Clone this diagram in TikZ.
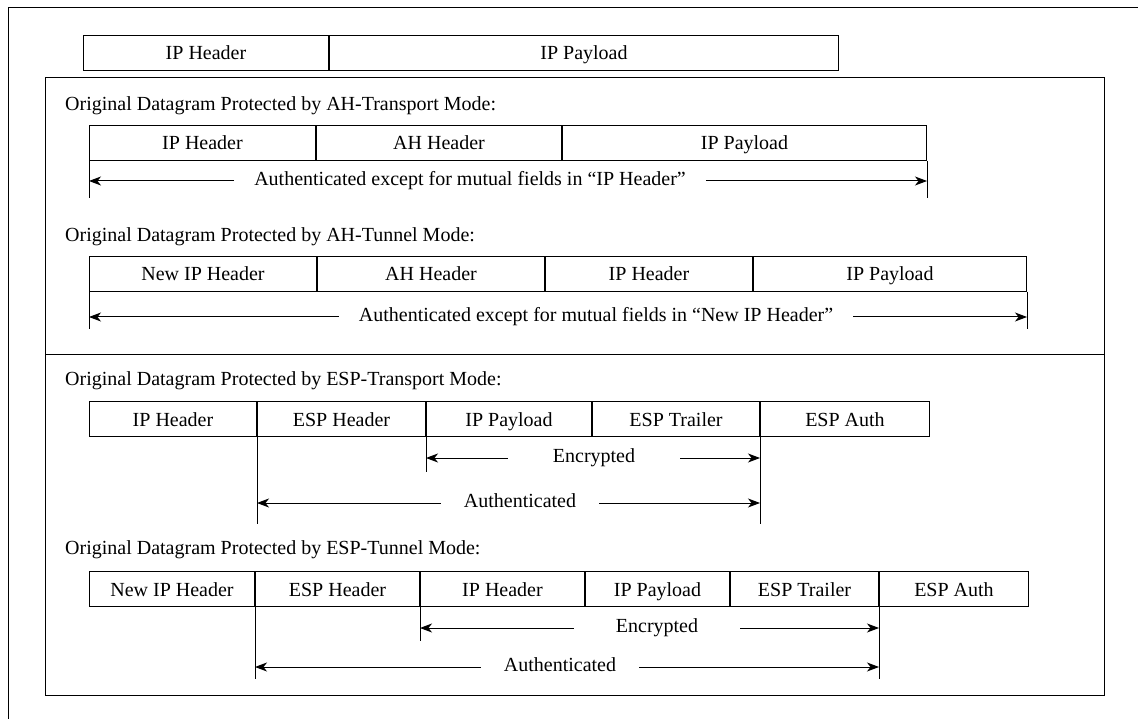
\documentclass[tikz,border=0pt]{standalone}
\usepackage{fontspec}
\setmainfont{Liberation Serif}
\usetikzlibrary{arrows.meta}

\tikzset{
  cell/.style={draw, line width=1pt, anchor=north west, minimum height=35pt,
    inner sep=0pt, text height=16pt, text depth=2pt, font=\fontsize{20}{24}\selectfont},
  caption/.style={anchor=west, inner sep=0pt, font=\fontsize{20}{24}\selectfont},
  dimtext/.style={inner sep=0pt, inner xsep=20pt, text height=13pt, text depth=4pt,
    font=\fontsize{20}{24}\selectfont},
  dimline/.style={line width=1pt},
  dimarrow/.style={line width=1pt, -{Stealth[length=12pt,width=9pt,inset=3.5pt]}},
}

\begin{document}
\begin{tikzpicture}[x=1pt,y=-1pt]
  \useasboundingbox (0,0) rectangle (1138,719);
  % frames
  \draw[dimline] (8,719) -- (8,8) -- (1138,8);
  \draw[dimline] (45,78) rectangle (1104,695);
  \draw[dimline] (45,354) -- (1104,354);

  % original datagram
  \node[cell, minimum width=245pt] (ipHdr) at (83,35) {IP Header};
  \node[cell, minimum width=509pt] (ipPay) at (ipHdr.north east) {IP Payload};

  % AH transport
  \node[caption] (atCap) at (65,106) {Original Datagram Protected by AH-Transport Mode:};
  \node[cell, minimum width=226pt] (atHdr) at (89,125) {IP Header};
  \node[cell, minimum width=245pt] (atAh) at (atHdr.north east) {AH Header};
  \node[cell, minimum width=364pt] (atPay) at (atAh.north east) {IP Payload};
  \draw[dimline] (atHdr.south west) -- ++(0,37) coordinate (atL);
  \draw[dimline] (atPay.south east) -- ++(0,37) coordinate (atR);
  \node[dimtext] (atAuth) at (470,181) {Authenticated except for mutual fields in “IP Header”};
  \draw[dimarrow] (atAuth.west) -- (atAuth.west -| atL);
  \draw[dimarrow] (atAuth.east) -- (atAuth.east -| atR);

  % AH tunnel
  \node[caption] (anCap) at (65,237) {Original Datagram Protected by AH-Tunnel Mode:};
  \node[cell, minimum width=227pt] (anNew) at (89,256) {New IP Header};
  \node[cell, minimum width=227pt] (anAh) at (anNew.north east) {AH Header};
  \node[cell, minimum width=207pt] (anHdr) at (anAh.north east) {IP Header};
  \node[cell, minimum width=273pt] (anPay) at (anHdr.north east) {IP Payload};
  \draw[dimline] (anNew.south west) -- ++(0,37) coordinate (anL);
  \draw[dimline] (anPay.south east) -- ++(0,37) coordinate (anR);
  \node[dimtext] (anAuth) at (596,317) {Authenticated except for mutual fields in “New IP Header”};
  \draw[dimarrow] (anAuth.west) -- (anAuth.west -| anL);
  \draw[dimarrow] (anAuth.east) -- (anAuth.east -| anR);

  % ESP transport
  \node[caption] (etCap) at (65,381) {Original Datagram Protected by ESP-Transport Mode:};
  \node[cell, minimum width=167pt] (etHdr) at (89,401) {IP Header};
  \node[cell, minimum width=168pt] (etEsp) at (etHdr.north east) {ESP Header};
  \node[cell, minimum width=165pt] (etPay) at (etEsp.north east) {IP Payload};
  \node[cell, minimum width=167pt] (etTrl) at (etPay.north east) {ESP Trailer};
  \node[cell, minimum width=169pt] (etAuth) at (etTrl.north east) {ESP Auth};
  \draw[dimline] (etPay.south west) -- ++(0,35) coordinate (etEncL);
  \draw[dimline] (etEsp.south west) -- ++(0,87) coordinate (etAutL);
  \draw[dimline] (etAuth.south west) -- ++(0,87) coordinate (etR);
  \node[dimtext, inner xsep=45pt] (etEnc) at (594,458) {Encrypted};
  \draw[dimarrow] (etEnc.west) -- (etEnc.west -| etEncL);
  \draw[dimarrow] (etEnc.east) -- (etEnc.east -| etR);
  \node[dimtext, inner xsep=23pt] (etAut) at (520,503) {Authenticated};
  \draw[dimarrow] (etAut.west) -- (etAut.west -| etAutL);
  \draw[dimarrow] (etAut.east) -- (etAut.east -| etR);

  % ESP tunnel
  \node[caption] (enCap) at (65,550) {Original Datagram Protected by ESP-Tunnel Mode:};
  \node[cell, minimum width=165pt] (enNew) at (89,571) {New IP Header};
  \node[cell, minimum width=164pt] (enEsp) at (enNew.north east) {ESP Header};
  \node[cell, minimum width=164pt] (enHdr) at (enEsp.north east) {IP Header};
  \node[cell, minimum width=144pt] (enPay) at (enHdr.north east) {IP Payload};
  \node[cell, minimum width=148pt] (enTrl) at (enPay.north east) {ESP Trailer};
  \node[cell, minimum width=149pt] (enAuth) at (enTrl.north east) {ESP Auth};
  \draw[dimline] (enHdr.south west) -- ++(0,34) coordinate (enEncL);
  \draw[dimline] (enEsp.south west) -- ++(0,72) coordinate (enAutL);
  \draw[dimline] (enAuth.south west) -- ++(0,72) coordinate (enR);
  \node[dimtext, inner xsep=42pt] (enEnc) at (657,628) {Encrypted};
  \draw[dimarrow] (enEnc.west) -- (enEnc.west -| enEncL);
  \draw[dimarrow] (enEnc.east) -- (enEnc.east -| enR);
  \node[dimtext, inner xsep=23pt] (enAut) at (560,667) {Authenticated};
  \draw[dimarrow] (enAut.west) -- (enAut.west -| enAutL);
  \draw[dimarrow] (enAut.east) -- (enAut.east -| enR);
\end{tikzpicture}
\end{document}
